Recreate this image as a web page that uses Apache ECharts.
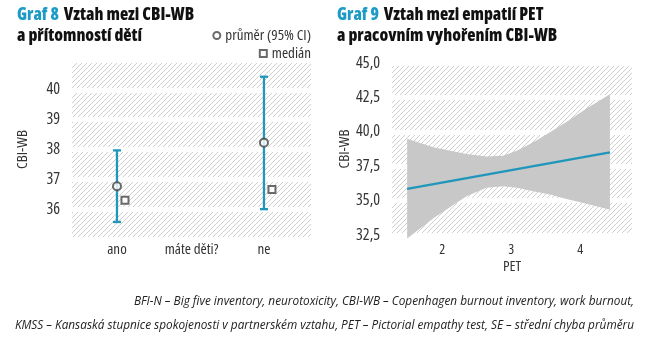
<!DOCTYPE html>
<html>
<head>
<meta charset="utf-8">
<script src="https://cdn.jsdelivr.net/npm/echarts@6/dist/echarts.min.js"></script>
<style>
  html, body { margin: 0; padding: 0; background: #fff; }
  #chart { width: 657px; height: 350px; }
</style>
</head>
<body>
<div id="chart"></div>
<script>
// Graf 8 - CBI-WB podle toho, zda respondent má děti
const groups = ['ano', 'ne'];
const meanVals = [36.77, 38.23];
const ciLow = [35.57, 36.0];
const ciHigh = [37.97, 40.44];
const medianVals = [36.3, 36.66];

// Graf 9 - regrese CBI-WB na PET s 95% pásem
const petX = [1.49, 1.87, 2.35, 2.64, 2.88, 3.08, 3.32, 3.56, 3.80, 4.09, 4.43];
const bandLower = [32.25, 33.72, 35.32, 35.93, 36.04, 35.93, 35.68, 35.44, 35.12, 34.78, 34.34];
const bandUpper = [39.49, 38.87, 38.38, 38.21, 38.26, 38.63, 39.24, 39.97, 40.71, 41.69, 42.72];
const fitX = [1.49, 4.43];
const fitY = [35.85, 38.5];
const petTicks = [2, 3, 4];

// uzke pismo: Open Sans v sirce condensed (font-stretch pres fontWeight)
const FONT = "'Open Sans', 'Roboto', sans-serif";
const REG = 'condensed';
const BOLD = '800 condensed';
const TEAL = '#1f96ba';
const DARK = '#454545';

// srafovane pozadi grafu
function hatch() {
  const s = 5;
  const c = document.createElement('canvas');
  c.width = s; c.height = s;
  const ctx = c.getContext('2d');
  ctx.fillStyle = '#fff';
  ctx.fillRect(0, 0, s, s);
  ctx.strokeStyle = '#cfcfcf';
  ctx.lineWidth = 1;
  ctx.beginPath();
  ctx.moveTo(0, s); ctx.lineTo(s, 0);
  ctx.moveTo(-1, 1); ctx.lineTo(1, -1);
  ctx.moveTo(s - 1, s + 1); ctx.lineTo(s + 1, s - 1);
  ctx.stroke();
  return c;
}
const hatchFill = { image: hatch(), repeat: 'repeat' };

const chart = echarts.init(document.getElementById('chart'), null, { renderer: 'canvas' });

const titleRich = {
  a: { color: '#1b9bc6', fontSize: 17, fontWeight: BOLD, fontFamily: FONT, lineHeight: 21 },
  b: { color: '#111', fontSize: 17, fontWeight: BOLD, fontFamily: FONT, lineHeight: 21 }
};
const lbl = { fontFamily: FONT, fontWeight: REG, fontSize: 15, color: '#333' };

chart.setOption({
  animation: false,
  title: [
    { left: 17, top: 5, padding: 0, text: '{a|Graf 8} {b|Vztah mezi CBI-WB}\n{b|a přítomností dětí}', textStyle: { rich: titleRich } },
    { left: 337, top: 5, padding: 0, text: '{a|Graf 9} {b|Vztah mezi empatií PET}\n{b|a pracovním vyhořením CBI-WB}', textStyle: { rich: titleRich } }
  ],
  legend: [
    { right: 346, top: 28, padding: 0, itemWidth: 7, itemHeight: 7, data: ['průměr (95% CI)'], textStyle: lbl },
    { right: 346, top: 46, padding: 0, itemWidth: 7, itemHeight: 7, data: ['medián'], textStyle: lbl }
  ],
  grid: [
    { left: 72, right: 346, top: 60, height: 179, show: true, borderWidth: 0, backgroundColor: hatchFill },
    { left: 392, right: 25, top: 63, height: 172, show: true, borderWidth: 0, backgroundColor: hatchFill }
  ],
  xAxis: [
    {
      gridIndex: 0, type: 'value', min: -0.306, max: 1.32,
      name: 'máte děti?', nameLocation: 'middle', nameGap: 3, nameMoveOverlap: false,
      nameTextStyle: Object.assign({ verticalAlign: 'top' }, lbl),
      axisLine: { show: false }, axisTick: { show: false }, splitLine: { show: false },
      axisLabel: Object.assign({ customValues: [0, 1], margin: 3,
        formatter: v => groups[Math.round(v)] }, lbl)
    },
    {
      gridIndex: 1, type: 'value', min: 1.27, max: 4.75,
      name: 'PET', nameLocation: 'middle', nameGap: 24, nameMoveOverlap: false,
      nameTextStyle: Object.assign({ verticalAlign: 'top' }, lbl),
      axisLine: { show: false }, axisTick: { show: false }, splitLine: { show: false },
      axisLabel: Object.assign({ customValues: petTicks, margin: 8 }, lbl, { fontSize: 14 })
    }
  ],
  yAxis: [
    {
      gridIndex: 0, type: 'value', min: 35, max: 41, interval: 1,
      name: 'CBI-WB', nameLocation: 'middle', nameGap: 42, nameMoveOverlap: false,
      nameTextStyle: lbl,
      axisLine: { show: false }, axisTick: { show: false },
      axisLabel: Object.assign({ showMinLabel: false, showMaxLabel: false, margin: 12 }, lbl, { fontSize: 16 }),
      splitLine: { lineStyle: { color: '#fff', width: 5 } }
    },
    {
      gridIndex: 1, type: 'value', min: 32.5, max: 45, interval: 2.5,
      name: 'CBI-WB', nameLocation: 'middle', nameGap: 40, nameMoveOverlap: false,
      nameTextStyle: lbl,
      axisLine: { show: false }, axisTick: { show: false },
      axisLabel: Object.assign({ margin: 12,
        formatter: v => v.toFixed(1).replace('.', ',') }, lbl, { fontSize: 16 }),
      splitLine: { lineStyle: { color: '#fff', width: 5 } }
    }
  ],
  series: [
    {
      name: 'ci', type: 'custom', xAxisIndex: 0, yAxisIndex: 0, z: 2,
      data: groups.map((g, i) => [i, ciLow[i], ciHigh[i]]),
      renderItem: function (params, api) {
        const lo = api.coord([api.value(0), api.value(1)]);
        const hi = api.coord([api.value(0), api.value(2)]);
        const w = 4;
        const st = { stroke: TEAL, lineWidth: 2.3 };
        return {
          type: 'group',
          children: [
            { type: 'line', shape: { x1: lo[0], y1: lo[1], x2: hi[0], y2: hi[1] }, style: st },
            { type: 'line', shape: { x1: lo[0] - w, y1: lo[1], x2: lo[0] + w, y2: lo[1] }, style: st },
            { type: 'line', shape: { x1: hi[0] - w, y1: hi[1], x2: hi[0] + w, y2: hi[1] }, style: st }
          ]
        };
      }
    },
    {
      name: 'průměr (95% CI)', type: 'scatter', xAxisIndex: 0, yAxisIndex: 0, z: 3,
      symbol: 'emptyCircle', symbolSize: 8,
      itemStyle: { color: DARK, borderColor: DARK, borderWidth: 1.8 },
      data: groups.map((g, i) => [i, meanVals[i]])
    },
    {
      name: 'medián', type: 'scatter', xAxisIndex: 0, yAxisIndex: 0, z: 3,
      symbol: 'emptyRect', symbolSize: 7, symbolOffset: [8, 0],
      itemStyle: { color: DARK, borderColor: DARK, borderWidth: 1.8 },
      data: groups.map((g, i) => [i, medianVals[i]])
    },
    {
      // 95% pas kolem regresni primky jako jeden mnohouhelnik
      name: 'pas', type: 'custom', xAxisIndex: 1, yAxisIndex: 1, z: 2,
      data: petX.map((x, i) => [x, bandLower[i], bandUpper[i]]),
      renderItem: function (params, api) {
        if (params.dataIndex !== 0) return null;
        const pts = [];
        petX.forEach((x, i) => pts.push(api.coord([x, bandUpper[i]])));
        for (let i = petX.length - 1; i >= 0; i--) pts.push(api.coord([petX[i], bandLower[i]]));
        return { type: 'polygon', shape: { points: pts }, style: { fill: '#c8c8c8' } };
      }
    },
    {
      name: 'fit', type: 'line', xAxisIndex: 1, yAxisIndex: 1, z: 4,
      symbol: 'none', lineStyle: { color: TEAL, width: 2.2 },
      data: fitX.map((x, i) => [x, fitY[i]])
    }
  ],
  graphic: [
    {
      type: 'text', x: 634, y: 290,
      style: {
        text: 'BFI-N – Big five inventory, neurotoxicity, CBI-WB – Copenhagen burnout inventory, work burnout,\n' +
              'KMSS – Kansaská stupnice spokojenosti v partnerském vztahu, PET – Pictorial empathy test, SE – střední chyba průměru',
        align: 'right', fill: '#222', lineHeight: 24,
        font: "italic 11.8px 'Open Sans', sans-serif"
      }
    }
  ]
});
</script>
</body>
</html>
